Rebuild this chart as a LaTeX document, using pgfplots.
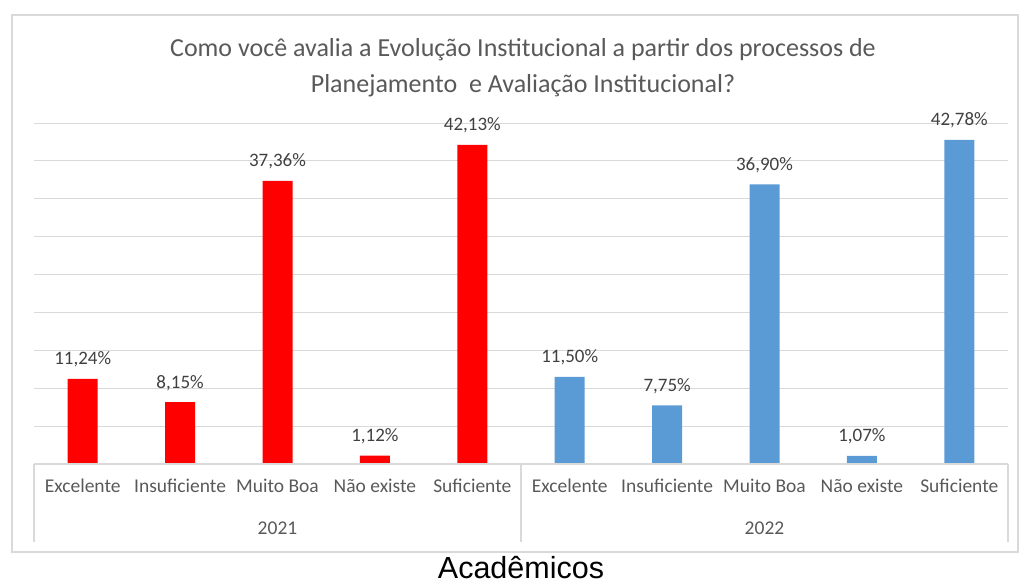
\documentclass[border=0pt]{standalone}
\usepackage{pgfplots}
\pgfplotsset{compat=1.18}
\usepackage{fontspec}
\setmainfont{Carlito}
\newfontfamily\arial{Liberation Sans}
\definecolor{txt}{HTML}{595959}
\definecolor{lbl}{HTML}{404040}
\definecolor{gridc}{HTML}{D9D9D9}
\definecolor{xred}{HTML}{FF0000}
\definecolor{xblue}{HTML}{5B9BD5}
\begin{document}
\begin{tikzpicture}
\useasboundingbox (0pt,0pt) rectangle (1019pt,-583pt);
\draw[gridc, line width=1.2pt] (12pt,-15pt) rectangle (1018pt,-552pt);
\node[txt, font=\fontsize{26}{36}\selectfont, align=center] at (523pt,-68pt) {Como você avalia a Evolução Institucional a partir dos processos de\\Planejamento\ \ e Avaliação Institucional?};
\node[font=\arial\fontsize{30.5}{34}\selectfont, anchor=base, inner sep=0pt] at (521pt,-578pt) {Acadêmicos};
\begin{axis}[
  at={(34pt,-464pt)}, anchor=south west,
  scale only axis, width=974pt, height=341pt,
  xmin=-0.5, xmax=9.5, ymin=0, ymax=45,
  ytick={0,5,...,45}, yticklabels={},
  major tick length=0pt,
  ymajorgrids, grid style={gridc, line width=0.8pt},
  axis line style={draw=none},
  xtick={0,...,9},
  xticklabels={Excelente,Insuficiente,Muito Boa,Não existe,Suficiente,Excelente,Insuficiente,Muito Boa,Não existe,Suficiente},
  xticklabel style={font=\fontsize{19.5}{22}\selectfont, text=txt, text height=13pt, text depth=4pt, yshift=-12pt},
  ybar, bar width=30pt,
  clip=false,
  nodes near coords={\pgfmathprintnumber{\pgfplotspointmeta}\%},
  nodes near coords style={font=\fontsize{19}{22}\selectfont, text=lbl, anchor=south, yshift=8pt,
    /pgf/number format/.cd, use comma, fixed, fixed zerofill, precision=2, assume math mode=true},
]
\addplot[fill=xred, draw=none, bar shift=0pt] coordinates {(0,11.24) (1,8.15) (2,37.36) (3,1.12) (4,42.13)};
\addplot[fill=xblue, draw=none, bar shift=0pt] coordinates {(5,11.50) (6,7.75) (7,36.90) (8,1.07) (9,42.78)};
\draw[gridc, line width=1.2pt] (axis cs:-0.5,0) -- (axis cs:9.5,0);
\draw[gridc, line width=1.2pt] (axis cs:-0.5,0) -- ++(0pt,-78pt);
\draw[gridc, line width=1.2pt] (axis cs:4.5,0) -- ++(0pt,-78pt);
\draw[gridc, line width=1.2pt] (axis cs:9.5,0) -- ++(0pt,-78pt);
\node[font=\fontsize{19.5}{22}\selectfont, text=txt] at (axis cs:2,0) [yshift=-64pt] {2021};
\node[font=\fontsize{19.5}{22}\selectfont, text=txt] at (axis cs:7,0) [yshift=-64pt] {2022};
\end{axis}
\end{tikzpicture}
\end{document}
